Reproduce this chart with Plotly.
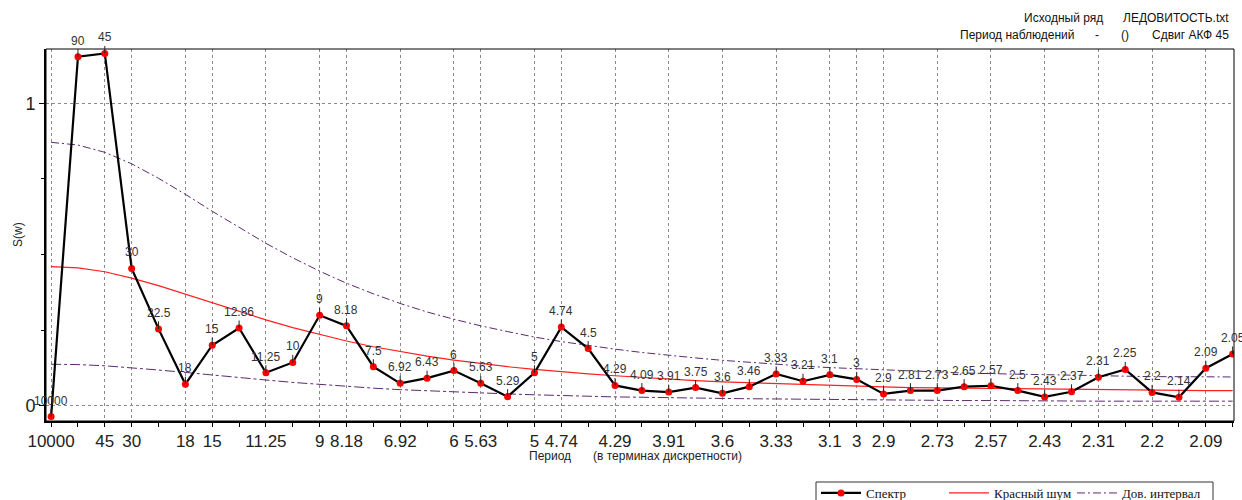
import plotly.graph_objects as go

# ---- data ----
periods = ["10000", "90", "45", "30", "22.5", "18", "15", "12.86", "11.25", "10",
           "9", "8.18", "7.5", "6.92", "6.43", "6", "5.63", "5.29", "5", "4.74",
           "4.5", "4.29", "4.09", "3.91", "3.75", "3.6", "3.46", "3.33", "3.21", "3.1",
           "3", "2.9", "2.81", "2.73", "2.65", "2.57", "2.5", "2.43", "2.37", "2.31",
           "2.25", "2.2", "2.14", "2.09", "2.05"]

spectrum = [-0.036, 1.154, 1.165, 0.454, 0.254, 0.071, 0.200, 0.257, 0.109, 0.143,
            0.299, 0.264, 0.129, 0.074, 0.091, 0.116, 0.074, 0.030, 0.109, 0.260,
            0.189, 0.067, 0.050, 0.045, 0.060, 0.041, 0.063, 0.105, 0.081, 0.102,
            0.087, 0.039, 0.050, 0.050, 0.063, 0.066, 0.050, 0.029, 0.046, 0.094,
            0.120, 0.044, 0.028, 0.124, 0.171]

red_noise = [0.460, 0.456, 0.443, 0.422, 0.397, 0.369, 0.340, 0.311, 0.284, 0.258,
             0.235, 0.214, 0.195, 0.179, 0.164, 0.151, 0.139, 0.129, 0.120, 0.112,
             0.105, 0.099, 0.093, 0.088, 0.083, 0.079, 0.076, 0.072, 0.069, 0.067,
             0.064, 0.062, 0.060, 0.059, 0.057, 0.056, 0.055, 0.054, 0.053, 0.052,
             0.051, 0.051, 0.051, 0.050, 0.050]

ci_upper = [0.871, 0.862, 0.838, 0.800, 0.752, 0.699, 0.643, 0.589, 0.537, 0.489,
            0.445, 0.405, 0.370, 0.338, 0.310, 0.286, 0.264, 0.245, 0.227, 0.212,
            0.199, 0.187, 0.176, 0.166, 0.158, 0.150, 0.143, 0.137, 0.131, 0.126,
            0.122, 0.118, 0.114, 0.111, 0.108, 0.106, 0.104, 0.102, 0.100, 0.098,
            0.097, 0.096, 0.096, 0.095, 0.095]

ci_lower = [0.137, 0.136, 0.132, 0.126, 0.118, 0.110, 0.101, 0.093, 0.085, 0.077,
            0.070, 0.064, 0.058, 0.053, 0.049, 0.045, 0.042, 0.039, 0.036, 0.033,
            0.031, 0.029, 0.028, 0.026, 0.025, 0.024, 0.023, 0.022, 0.021, 0.020,
            0.019, 0.019, 0.018, 0.017, 0.017, 0.017, 0.016, 0.016, 0.016, 0.015,
            0.015, 0.015, 0.015, 0.015, 0.015]

tick_periods = ["10000", "45", "30", "18", "15", "11.25", "9", "8.18", "6.92", "6",
                "5.63", "5", "4.74", "4.29", "3.91", "3.6", "3.33", "3.1", "3", "2.9",
                "2.73", "2.57", "2.43", "2.31", "2.2", "2.09"]

x = list(range(len(periods)))
tickvals = [periods.index(t) for t in tick_periods]

W, H = 1242, 500
L, R, T, B = 46, 8, 49, 79
PW, PH = W - L - R, H - T - B


def px(v):
    return (v - L) / PW


def py(v):
    return (H - B - v) / PH


SANS = "Arial, Liberation Sans, sans-serif"
SERIF = "Times New Roman, Liberation Serif, serif"
PURPLE = "#5c2a6e"

fig = go.Figure()

fig.add_trace(go.Scatter(x=x, y=ci_upper, mode="lines", name="Дов. интервал",
                         legendgroup="ci", legend="legend3",
                         line=dict(color=PURPLE, width=1, dash="8px,3px,2px,3px")))
fig.add_trace(go.Scatter(x=x, y=ci_lower, mode="lines", name="Дов. интервал",
                         legendgroup="ci", showlegend=False, legend="legend3",
                         line=dict(color=PURPLE, width=1, dash="10px,3px,3px,3px")))
fig.add_trace(go.Scatter(x=x, y=red_noise, mode="lines", name="Красный шум",
                         legend="legend2", line=dict(color="#ff2020", width=1.2)))
fig.add_trace(go.Scatter(x=x, y=spectrum, mode="lines+markers", name="Спектр",
                         legend="legend",
                         line=dict(color="black", width=2.2),
                         marker=dict(color="#ff0000", size=7, line=dict(width=0))))

annotations = []
for i, (lab, v) in enumerate(zip(periods, spectrum)):
    annotations.append(dict(x=i, y=v, xref="x", yref="y", text=lab,
                            showarrow=True, arrowhead=0, arrowwidth=1,
                            arrowcolor="#222", ax=0, ay=-16, standoff=0,
                            font=dict(family=SANS, size=12, color="#333")))

hdr = dict(family=SANS, size=12, color="#111")
annotations += [
    dict(x=px(1105), y=py(18), xref="paper", yref="paper", text="Исходный ряд",
         showarrow=False, xanchor="right", yanchor="middle", font=hdr),
    dict(x=px(1231), y=py(18), xref="paper", yref="paper", text="ЛЕДОВИТОСТЬ.txt",
         showarrow=False, xanchor="right", yanchor="middle", font=hdr),
    dict(x=px(1077), y=py(35), xref="paper", yref="paper", text="Период наблюдений",
         showarrow=False, xanchor="right", yanchor="middle", font=hdr),
    dict(x=px(1097), y=py(35), xref="paper", yref="paper", text="-",
         showarrow=False, xanchor="center", yanchor="middle", font=hdr),
    dict(x=px(1125), y=py(35), xref="paper", yref="paper", text="()",
         showarrow=False, xanchor="center", yanchor="middle", font=hdr),
    dict(x=px(1231), y=py(35), xref="paper", yref="paper", text="Сдвиг АКФ 45",
         showarrow=False, xanchor="right", yanchor="middle", font=hdr),
    dict(x=px(527), y=py(456), xref="paper", yref="paper", text="Период",
         showarrow=False, xanchor="left", yanchor="middle",
         font=dict(family=SANS, size=12, color="#222")),
    dict(x=px(591), y=py(456), xref="paper", yref="paper",
         text="(в терминах дискретности)",
         showarrow=False, xanchor="left", yanchor="middle",
         font=dict(family=SANS, size=12, color="#222")),
    dict(x=px(18), y=py(235), xref="paper", yref="paper", text="S(w)",
         showarrow=False, xanchor="center", yanchor="middle", textangle=-90,
         font=dict(family=SANS, size=12, color="#222")),
]

grid = dict(showgrid=True, gridcolor="#8a8a8a", gridwidth=1, griddash="3px,3px",
            zeroline=False, showline=True, linecolor="black", linewidth=2,
            ticks="outside", tickcolor="black")

leg_common = dict(orientation="h", y=py(478), xanchor="left", yanchor="top",
                  borderwidth=0, bgcolor="rgba(0,0,0,0)",
                  font=dict(family=SERIF, size=13, color="#111"), itemwidth=40)

fig.update_layout(
    width=W, height=H,
    paper_bgcolor="white", plot_bgcolor="white",
    margin=dict(l=L, r=R, t=T, b=B, autoexpand=False),
    font=dict(family=SANS, color="#222"),
    xaxis=dict(range=[-0.19, 44.05], tickmode="array", tickvals=tickvals,
               ticktext=tick_periods, ticklen=4,
               tickfont=dict(family=SANS, size=17, color="#222"),
               minor=dict(tick0=0, dtick=1, ticks="outside", ticklen=4,
                          tickcolor="black", showgrid=False,
                          gridcolor="rgba(0,0,0,0)"),
               **grid),
    yaxis=dict(range=[-0.0506, 1.1796], tickmode="array", tickvals=[0, 1],
               ticktext=["0", "1"], ticklen=5,
               tickfont=dict(family=SANS, size=18, color="#222"),
               minor=dict(tick0=0, dtick=0.25, ticks="outside", ticklen=3,
                          tickcolor="black", showgrid=False,
                          gridcolor="rgba(0,0,0,0)"),
               **grid),
    showlegend=True,
    legend=dict(x=px(816), **leg_common),
    legend2=dict(x=px(944), **leg_common),
    legend3=dict(x=px(1072), **leg_common),
    shapes=[
        dict(type="rect", xref="paper", yref="paper", x0=0, x1=1, y0=0, y1=1,
             line=dict(color="black", width=1), layer="above"),
        dict(type="rect", xref="paper", yref="paper", x0=px(816), x1=px(1213),
             y0=py(482), y1=py(515), line=dict(color="#333", width=1), layer="below"),
    ],
    annotations=annotations,
)

fig.write_html("out.html",
               config={"displayModeBar": False},
               post_script="document.body.style.margin='0';document.body.style.overflow='hidden';")
